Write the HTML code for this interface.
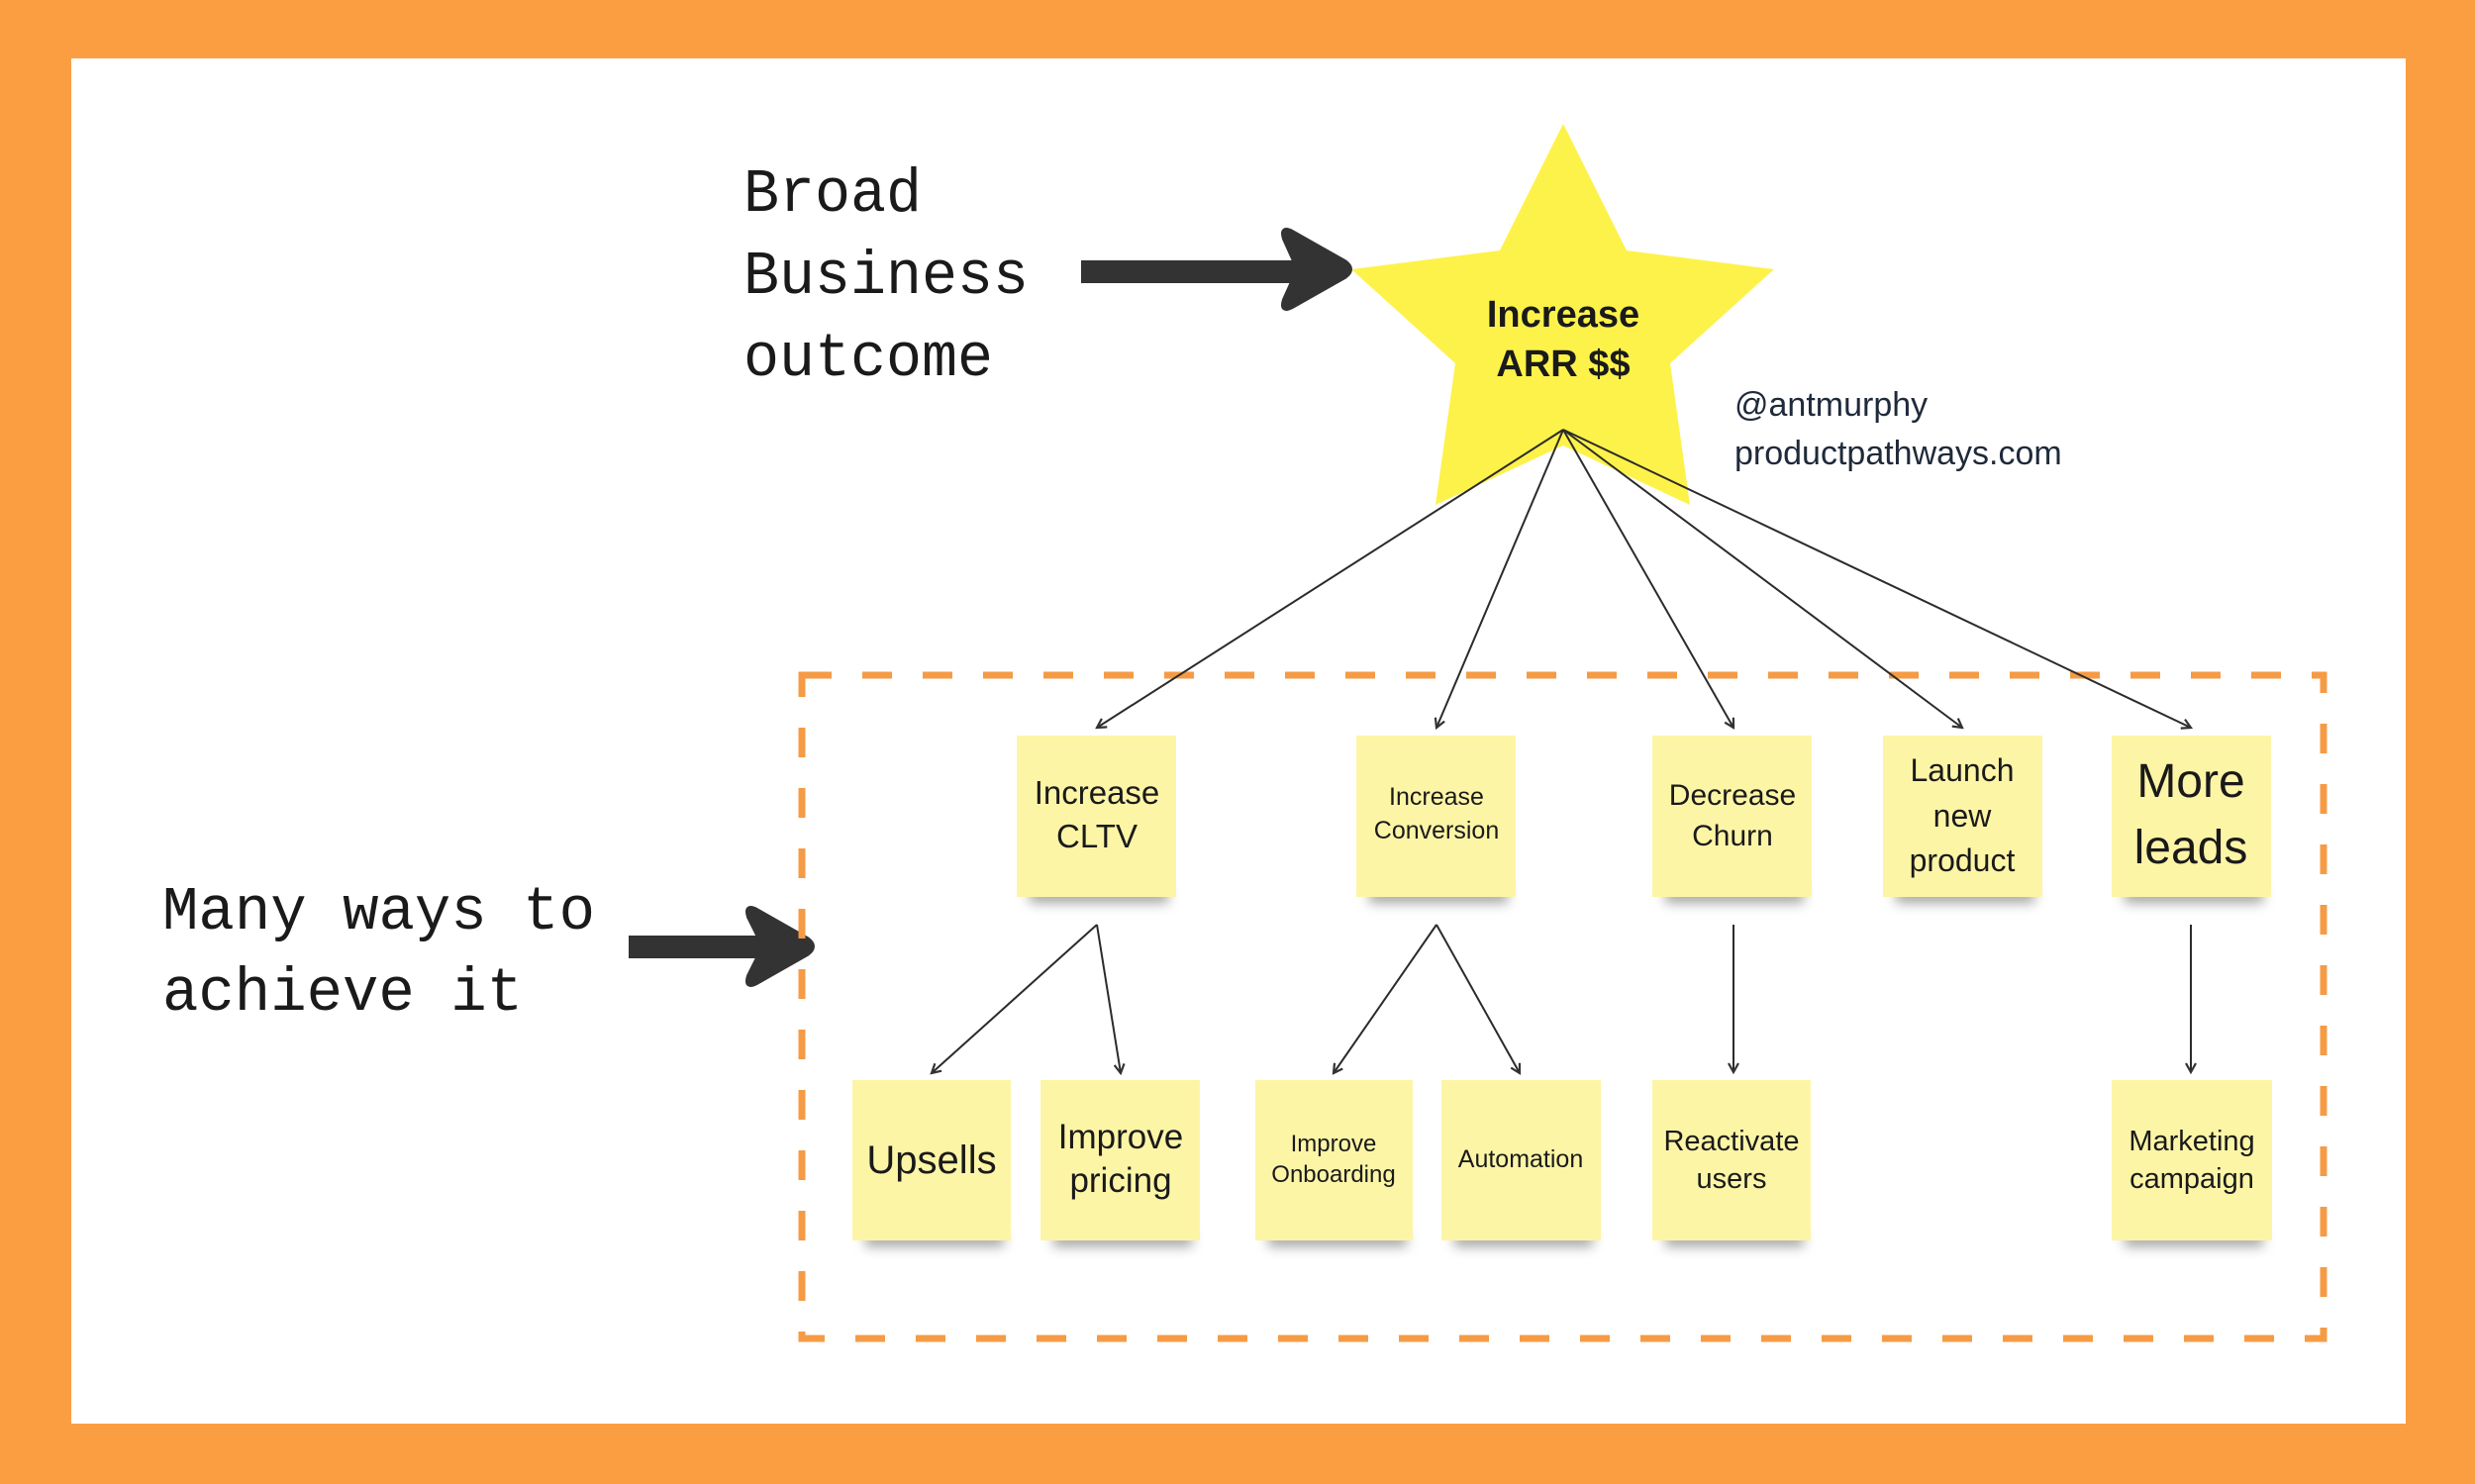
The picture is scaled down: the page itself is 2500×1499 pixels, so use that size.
<!DOCTYPE html>
<html><head><meta charset="utf-8"><style>
html,body{margin:0;padding:0;}
body{width:2500px;height:1499px;background:#fb9e42;overflow:hidden;}
svg{display:block;}
.n{fill:#fdf5a6;}
.t{font-family:"Liberation Sans",sans-serif;fill:#1a1a1a;text-anchor:middle;}
.m{font-family:"Liberation Mono",monospace;fill:#1a1a1a;}
</style></head><body>
<svg width="2500" height="1499" viewBox="0 0 2500 1499" xmlns="http://www.w3.org/2000/svg">
<defs>
<filter id="sh" x="-20%" y="-100%" width="140%" height="300%"><feGaussianBlur stdDeviation="6"/></filter>
<marker id="ah" markerWidth="12" markerHeight="12" refX="10" refY="6" orient="auto" markerUnits="userSpaceOnUse">
<path d="M1,1 L10,6 L1,11" fill="none" stroke="#333" stroke-width="2.2"/>
</marker>
</defs>
<rect x="72" y="59" width="2358" height="1379" fill="#fff"/>

<!-- star -->
<polygon points="1579,125 1643,253 1792,272 1687,367 1707,510 1579,450 1450,510 1470,367 1365,272 1515,253" fill="#fdf24a"/>
<text class="t" x="1579" y="330" font-size="38" font-weight="bold">Increase</text>
<text class="t" x="1579" y="380" font-size="38" font-weight="bold">ARR $$</text>

<text x="1752" y="420" font-family="Liberation Sans,sans-serif" font-size="34" fill="#1f2a3a">@antmurphy</text>
<text x="1752" y="469" font-family="Liberation Sans,sans-serif" font-size="34" fill="#1f2a3a">productpathways.com</text>

<!-- left text -->
<text class="m" x="751" y="213" font-size="62" textLength="180" lengthAdjust="spacingAndGlyphs">Broad</text>
<text class="m" x="751" y="296" font-size="62" textLength="288" lengthAdjust="spacingAndGlyphs">Business</text>
<text class="m" x="751" y="379" font-size="62" textLength="252" lengthAdjust="spacingAndGlyphs">outcome</text>
<text class="m" x="164" y="938" font-size="62" textLength="437" lengthAdjust="spacingAndGlyphs">Many ways to</text>
<text class="m" x="164" y="1020" font-size="62" textLength="364" lengthAdjust="spacingAndGlyphs">achieve it</text>

<!-- big arrows -->
<rect x="1092" y="263" width="220" height="23" fill="#333"/>
<path d="M1298,241 Q1294,229 1305,235 L1358,265 Q1368,272 1358,279 L1305,309 Q1294,315 1298,303 L1312,272 Z" fill="#333" stroke="#333" stroke-width="6" stroke-linejoin="round"/>
<rect x="635" y="945" width="140" height="23" fill="#333"/>
<path d="M757,926 Q753,914 764,920 L815,949 Q825,956 815,963 L764,992 Q753,998 757,986 L772,956 Z" fill="#333" stroke="#333" stroke-width="6" stroke-linejoin="round"/>

<!-- dashed box -->
<rect x="810" y="682" width="1537" height="670" fill="none" stroke="#f59b45" stroke-width="7" stroke-dasharray="30 31"/>

<!-- connectors -->
<g stroke="#2b2b2b" stroke-width="2" fill="none" marker-end="url(#ah)">
<line x1="1579" y1="434" x2="1108" y2="735"/>
<line x1="1579" y1="434" x2="1451" y2="735"/>
<line x1="1579" y1="434" x2="1751" y2="735"/>
<line x1="1579" y1="434" x2="1982" y2="735"/>
<line x1="1579" y1="434" x2="2213" y2="735"/>
<line x1="1108" y1="934" x2="941" y2="1084"/>
<line x1="1108" y1="934" x2="1132" y2="1084"/>
<line x1="1451" y1="934" x2="1347" y2="1084"/>
<line x1="1451" y1="934" x2="1535" y2="1084"/>
<line x1="1751" y1="934" x2="1751" y2="1083"/>
<line x1="2213" y1="934" x2="2213" y2="1083"/>
</g>

<!-- notes -->
<g fill="#555" opacity="0.55" filter="url(#sh)">
<rect x="1040" y="898" width="140" height="14"/>
<rect x="1383" y="898" width="140" height="14"/>
<rect x="1682" y="898" width="140" height="14"/>
<rect x="1915" y="898" width="140" height="14"/>
<rect x="2146" y="898" width="140" height="14"/>
<rect x="874" y="1245" width="140" height="14"/>
<rect x="1064" y="1245" width="140" height="14"/>
<rect x="1281" y="1245" width="140" height="14"/>
<rect x="1469" y="1245" width="140" height="14"/>
<rect x="1682" y="1245" width="140" height="14"/>
<rect x="2146" y="1245" width="140" height="14"/>
</g>
<g class="n">
<rect x="1027" y="743" width="161" height="163"/>
<rect x="1370" y="743" width="161" height="163"/>
<rect x="1669" y="743" width="161" height="163"/>
<rect x="1902" y="743" width="161" height="163"/>
<rect x="2133" y="743" width="161" height="163"/>
<rect x="861" y="1091" width="160" height="162"/>
<rect x="1051" y="1091" width="161" height="162"/>
<rect x="1268" y="1091" width="159" height="162"/>
<rect x="1456" y="1091" width="161" height="162"/>
<rect x="1669" y="1091" width="160" height="162"/>
<rect x="2133" y="1091" width="162" height="162"/>
</g>

<text class="t" x="1108" y="812" font-size="33">Increase</text>
<text class="t" x="1108" y="856" font-size="33">CLTV</text>
<text class="t" x="1451" y="813" font-size="25">Increase</text>
<text class="t" x="1451" y="847" font-size="25">Conversion</text>
<text class="t" x="1750" y="813" font-size="30">Decrease</text>
<text class="t" x="1750" y="854" font-size="30">Churn</text>
<text class="t" x="1982" y="789" font-size="32">Launch</text>
<text class="t" x="1982" y="835" font-size="32">new</text>
<text class="t" x="1982" y="880" font-size="32">product</text>
<text class="t" x="2213" y="805" font-size="48">More</text>
<text class="t" x="2213" y="872" font-size="48">leads</text>

<text class="t" x="941" y="1185" font-size="40">Upsells</text>
<text class="t" x="1132" y="1160" font-size="35">Improve</text>
<text class="t" x="1132" y="1204" font-size="35">pricing</text>
<text class="t" x="1347" y="1163" font-size="24">Improve</text>
<text class="t" x="1347" y="1194" font-size="24">Onboarding</text>
<text class="t" x="1536" y="1179" font-size="25">Automation</text>
<text class="t" x="1749" y="1162" font-size="29">Reactivate</text>
<text class="t" x="1749" y="1200" font-size="29">users</text>
<text class="t" x="2214" y="1162" font-size="29">Marketing</text>
<text class="t" x="2214" y="1200" font-size="29">campaign</text>
</svg>
</body></html>
